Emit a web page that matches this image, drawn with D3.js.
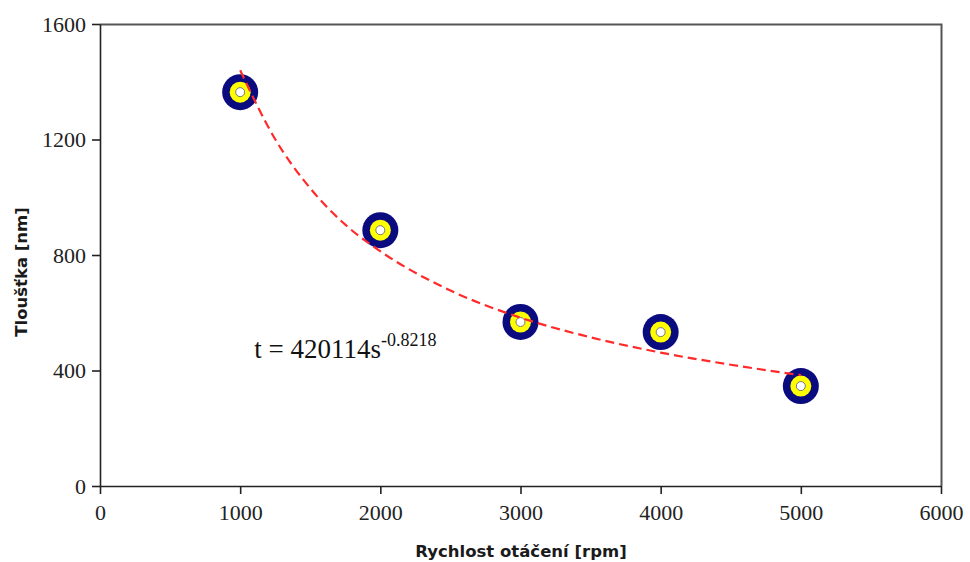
<!DOCTYPE html>
<html>
<head>
    <meta charset="utf-8">
    <title>Tloustka vs rychlost otaceni</title>
    <script src="https://cdn.jsdelivr.net/npm/d3@7/dist/d3.min.js"></script>
    <style>
        body { margin: 0; background: #fff; }
        .tick text { font-family: "Liberation Serif", serif; font-size: 22px; fill: #222; }
        .axis-title { font-family: "DejaVu Sans", sans-serif; font-weight: bold; font-size: 16.5px; fill: #1a1a1a; }
    </style>
</head>
<body>
    <div id="chart"></div>

    <script>
        // measured points
        const speeds = [1000, 2000, 3000, 4000, 5000];
        const thickness = [1364, 886, 568, 533, 346];

        // power trendline
        const trendSpeeds = [1000, 1250, 1500, 1750, 2000, 2500, 3000, 3500, 4000, 4500, 5000];
        const trendValues = [1440, 1201, 1031, 905, 813, 677, 583, 515, 462, 420, 384];

        const xTicks = [0, 1000, 2000, 3000, 4000, 5000, 6000];
        const yTicks = [0, 400, 800, 1200, 1600];

        const margin = { top: 24, right: 29, bottom: 76, left: 100 };
        const width = 970 - margin.left - margin.right;
        const height = 562 - margin.top - margin.bottom;

        const svg = d3.select('#chart')
            .append('svg')
            .attr('width', 970)
            .attr('height', 562);

        const g = svg.append('g')
            .attr('transform', 'translate(' + margin.left + ',' + margin.top + ')');

        const x = d3.scaleLinear().domain([0, 6000]).range([0, width]);
        const y = d3.scaleLinear().domain([0, 1600]).range([height, 0]);

        // frame (top + right)
        g.append('path')
            .attr('d', 'M0,0.5H' + (width + 0.5) + 'V' + height)
            .attr('fill', 'none')
            .attr('stroke', '#555')
            .attr('stroke-width', 2);

        const xAxis = g.append('g')
            .attr('transform', 'translate(0,' + height + ')')
            .call(d3.axisBottom(x).tickValues(xTicks).tickFormat(d3.format('d'))
                .tickSize(8).tickPadding(6).tickSizeOuter(0));

        const yAxis = g.append('g')
            .call(d3.axisLeft(y).tickValues(yTicks).tickFormat(d3.format('d'))
                .tickSize(8).tickPadding(6).tickSizeOuter(0));

        [xAxis, yAxis].forEach(function(a) {
            a.select('.domain').attr('stroke', '#222').attr('stroke-width', 1.6);
            a.selectAll('.tick line').attr('stroke', '#222').attr('stroke-width', 1.6);
        });
        xAxis.selectAll('.tick text').attr('dy', '0.9em');

        // markers
        const pts = speeds.map(function(s, i) { return { s: s, t: thickness[i] }; });
        const mk = g.selectAll('.pt').data(pts).enter().append('g')
            .attr('transform', function(d) { return 'translate(' + x(d.s) + ',' + y(d.t) + ')'; });
        mk.append('circle').attr('r', 18).attr('fill', '#0b0b80');
        mk.append('circle').attr('r', 10.5).attr('fill', '#ffff00');
        mk.append('circle').attr('r', 4.5).attr('fill', '#fff').attr('stroke', '#777').attr('stroke-width', 1);

        // trendline over the markers
        const trend = trendSpeeds.map(function(s, i) { return { s: s, t: trendValues[i] }; });
        g.append('path')
            .datum(trend)
            .attr('fill', 'none')
            .attr('stroke', '#ff2a2a')
            .attr('stroke-width', 2.2)
            .attr('stroke-dasharray', '9,5')
            .attr('d', d3.line()
                .curve(d3.curveMonotoneX)
                .x(function(d) { return x(d.s); })
                .y(function(d) { return y(d.t); }));

        // equation
        const eq = g.append('text')
            .attr('x', x(1100))
            .attr('y', y(445))
            .attr('font-family', 'Liberation Serif, serif')
            .attr('font-size', 27)
            .attr('fill', '#111');
        eq.append('tspan').text('t = 420114s');
        eq.append('tspan').attr('dy', -12).attr('font-size', 18).text('-0.8218');

        // axis titles
        svg.append('text')
            .attr('class', 'axis-title')
            .attr('x', 521)
            .attr('y', 557)
            .attr('text-anchor', 'middle')
            .text('Rychlost otáčení [rpm]');

        svg.append('text')
            .attr('class', 'axis-title')
            .attr('transform', 'translate(27,272) rotate(-90)')
            .attr('text-anchor', 'middle')
            .text('Tloušťka [nm]');
    </script>
</body>
</html>
